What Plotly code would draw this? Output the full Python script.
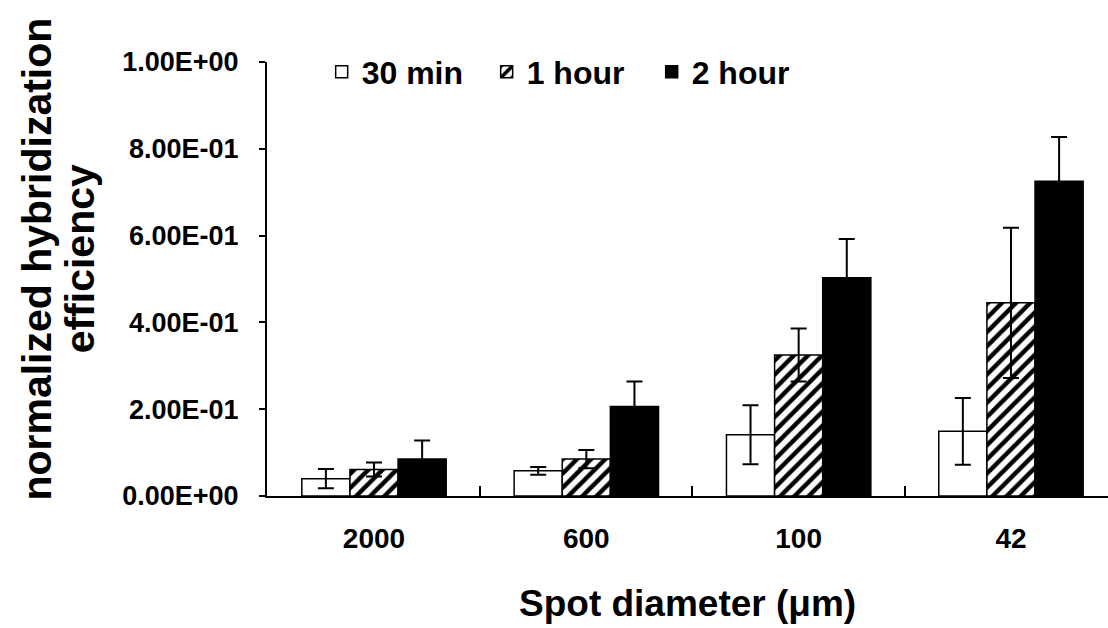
import plotly.graph_objects as go

categories = ["2000", "600", "100", "42"]
series_names = ["30 min", "1 hour", "2 hour"]
vals_30min = [0.040, 0.058, 0.141, 0.149]
err_30min = [0.022, 0.009, 0.068, 0.077]
vals_1hour = [0.061, 0.085, 0.325, 0.445]
err_1hour = [0.016, 0.021, 0.061, 0.173]
vals_2hour = [0.085, 0.206, 0.503, 0.725]
err_2hour = [0.043, 0.058, 0.089, 0.102]
ytick_vals = [0.0, 0.2, 0.4, 0.6, 0.8, 1.0]
ytick_text = ["0.00E+00", "2.00E-01", "4.00E-01", "6.00E-01", "8.00E-01", "1.00E+00"]

FONT = "Liberation Sans"

fig = go.Figure()

def add(name, vals, errs, bg, shape):
    marker = dict(color=bg, line=dict(color="black", width=1.5))
    if shape:
        marker["pattern"] = dict(shape=shape, fgcolor="black", bgcolor="white",
                                 fgopacity=1, size=10, solidity=0.45,
                                 fillmode="replace")
    fig.add_trace(go.Bar(
        x=categories, y=vals, name=name, marker=marker,
        error_y=dict(type="data", array=errs, visible=True, color="black",
                     thickness=2, width=8),
    ))

add(series_names[0], vals_30min, err_30min, "white", None)
add(series_names[1], vals_1hour, err_1hour, "white", "/")
add(series_names[2], vals_2hour, err_2hour, "black", None)

fig.update_layout(
    width=1108, height=628,
    margin=dict(l=267, r=0, t=62, b=132),
    paper_bgcolor="white", plot_bgcolor="white",
    barmode="group", bargap=0.32, bargroupgap=0,
    font=dict(family=FONT, color="black", size=28, weight="bold"),
    showlegend=True,
    legend=dict(orientation="h", x=0.065, y=0.977, xanchor="left", yanchor="middle",
                font=dict(size=32, family=FONT, weight="bold"),
                bgcolor="rgba(0,0,0,0)", itemwidth=30, traceorder="normal",
                entrywidth=120, entrywidthmode="pixels"),
)

fig.update_xaxes(
    type="category", range=[-0.504, 3.457],
    showline=True, linecolor="black", linewidth=2,
    ticks="inside", ticklen=10, tickwidth=1.5, tickcolor="black",
    tickson="boundaries", showgrid=False, zeroline=False,
    tickfont=dict(size=28, family=FONT, weight="bold"),
    ticklabelstandoff=16,
)
fig.update_yaxes(
    range=[0, 1.0], tickvals=ytick_vals, ticktext=ytick_text,
    showline=True, linecolor="black", linewidth=2,
    ticks="outside", ticklen=6, tickwidth=1.5, tickcolor="black",
    showgrid=False, zeroline=False,
    tickfont=dict(size=27, family=FONT, weight="bold"),
    ticklabelstandoff=15,
)

fig.add_annotation(text="normalized hybridization", textangle=-90,
                   xref="paper", yref="paper", x=-0.274, y=0.546,
                   xanchor="center", yanchor="middle", showarrow=False,
                   font=dict(size=41, family=FONT, weight="bold"))
fig.add_annotation(text="efficiency", textangle=-90,
                   xref="paper", yref="paper", x=-0.222, y=0.546,
                   xanchor="center", yanchor="middle", showarrow=False,
                   font=dict(size=41, family=FONT, weight="bold"))
fig.add_annotation(text="Spot diameter (μm)",
                   xref="paper", yref="paper", x=0.5, y=-0.247,
                   xanchor="center", yanchor="middle", showarrow=False,
                   font=dict(size=37, family=FONT, weight="bold"))

fig.write_html("out.html")
